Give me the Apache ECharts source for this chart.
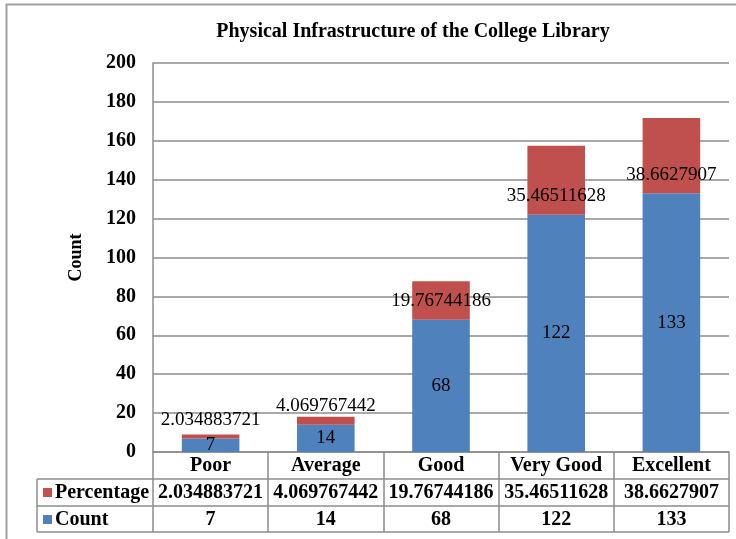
<!DOCTYPE html>
<html>
<head>
<meta charset="utf-8">
<script src="https://cdn.jsdelivr.net/npm/echarts@6/dist/echarts.min.js"></script>
<style>html,body{margin:0;padding:0;background:#fff}#c{width:736px;height:539px}</style>
</head>
<body>
<div id="c"></div>
<script>
const categories = ['Poor', 'Average', 'Good', 'Very Good', 'Excellent'];
const countValues = [7, 14, 68, 122, 133];
const percentageValues = [2.034883721, 4.069767442, 19.76744186, 35.46511628, 38.6627907];
const percentageLabels = ['2.034883721', '4.069767442', '19.76744186', '35.46511628', '38.6627907'];
const yTicks = [0, 20, 40, 60, 80, 100, 120, 140, 160, 180, 200];

const FONT = '"Liberation Serif", serif';
const GRID = {left: 153, right: 7, top: 63, bottom: 87};
const ROW = 27;
const axisColor = '#8c8c8c';

const chart = echarts.init(document.getElementById('c'));
const xLabelMap = {};
categories.forEach((c, i) => {
  xLabelMap[c] = '{c|' + c + '}\n{v|' + percentageLabels[i] + '}\n{v|' + countValues[i] + '}';
});
const tableTop = 539 - GRID.bottom;
const tableRight = 736 - GRID.right;

chart.setOption({
  animation: false,
  backgroundColor: '#fff',
  title: {
    text: 'Physical Infrastructure of the College Library',
    left: 408, top: 17, textAlign: 'center',
    textStyle: {fontFamily: FONT, fontWeight: 'bold', fontSize: 20, color: '#000'}
  },
  legend: {
    data: ['Percentage', 'Count'],
    orient: 'vertical', left: 43, top: tableTop + ROW,
    icon: 'rect', itemWidth: 9, itemHeight: 9, itemGap: 0,
    textStyle: {fontFamily: FONT, fontWeight: 'bold', fontSize: 20, color: '#000', lineHeight: ROW, padding: [0, 0, 0, -2]},
    padding: 0, selectedMode: false
  },
  grid: GRID,
  xAxis: {
    type: 'category', data: categories,
    axisLine: {lineStyle: {color: axisColor, width: 1.5}},
    axisTick: {show: true, alignWithLabel: false, length: ROW * 3 - 1, lineStyle: {color: axisColor, width: 1.5}},
    axisLabel: {
      margin: 0, interval: 0,
      formatter: v => xLabelMap[v],
      rich: {
        c: {fontFamily: FONT, fontWeight: 'bold', fontSize: 20, color: '#000', lineHeight: ROW, height: ROW},
        v: {fontFamily: FONT, fontWeight: 'bold', fontSize: 20, color: '#000', lineHeight: ROW, height: ROW}
      }
    }
  },
  yAxis: {
    type: 'value', min: 0, max: 200, interval: 20,
    name: 'Count', nameLocation: 'middle', nameGap: 68, nameRotate: 90,
    nameTextStyle: {fontFamily: FONT, fontWeight: 'bold', fontSize: 18, color: '#000'},
    axisLine: {show: true, lineStyle: {color: axisColor, width: 1.5}},
    axisTick: {show: false},
    axisLabel: {margin: 17, fontFamily: FONT, fontWeight: 'bold', fontSize: 20, color: '#000',
      formatter: v => (yTicks.indexOf(v) >= 0 ? String(v) : '')},
    splitLine: {lineStyle: {color: axisColor, width: 1.5}}
  },
  series: [
    {
      name: 'Count', type: 'bar', stack: 'a', barWidth: '50%',
      data: countValues,
      itemStyle: {color: '#4F81BD'},
      label: {show: true, position: 'inside', fontFamily: FONT, fontSize: 19, color: '#000'}
    },
    {
      name: 'Percentage', type: 'bar', stack: 'a', barWidth: '50%',
      data: percentageValues,
      itemStyle: {color: '#C0504D'},
      label: {show: true, position: 'insideBottom', distance: 9, fontFamily: FONT, fontSize: 19, color: '#000',
        formatter: p => percentageLabels[p.dataIndex]}
    }
  ],
  graphic: [
    {type: 'rect', silent: true, shape: {x: 6.5, y: 4.5, width: 760, height: 560},
      style: {fill: null, stroke: '#a0a0a0', lineWidth: 2}},
    {type: 'line', silent: true, shape: {x1: 37, y1: tableTop + ROW, x2: tableRight, y2: tableTop + ROW},
      style: {stroke: axisColor, lineWidth: 1.5}},
    {type: 'line', silent: true, shape: {x1: 37, y1: tableTop + 2 * ROW, x2: tableRight, y2: tableTop + 2 * ROW},
      style: {stroke: axisColor, lineWidth: 1.5}},
    {type: 'line', silent: true, shape: {x1: 37, y1: tableTop + 3 * ROW - 1, x2: tableRight, y2: tableTop + 3 * ROW - 1},
      style: {stroke: axisColor, lineWidth: 1.5}},
    {type: 'line', silent: true, shape: {x1: 37, y1: tableTop + ROW, x2: 37, y2: tableTop + 3 * ROW - 1},
      style: {stroke: axisColor, lineWidth: 1.5}}
  ]
});
</script>
</body>
</html>
